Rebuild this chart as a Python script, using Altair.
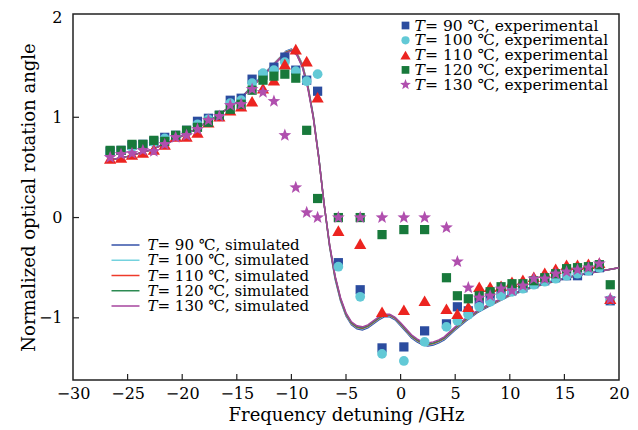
import altair as alt
import pandas as pd

FONT = "DejaVu Serif"

# ---------------- data ----------------
SERIES = ["90", "100", "110", "120", "130"]
EXP_TEXT = ["= 90 ℃, experimental", "= 100 ℃, experimental", "= 110 ℃, experimental",
            "= 120 ℃, experimental", "= 130 ℃, experimental"]
SIM_TEXT = ["= 90 ℃, simulated", "= 100 ℃, simulated", "= 110 ℃, simulated",
            "= 120 ℃, simulated", "= 130 ℃, simulated"]

X_EXP = [-26.6, -25.6, -24.6, -23.6, -22.6, -21.6, -20.6, -19.6, -18.6, -17.6,
         -16.6, -15.6, -14.6, -13.6, -12.6, -11.6, -10.6, -9.6, -8.6, -7.6,
         -5.7, -3.7, -1.7, 0.3, 2.2, 4.2, 5.2, 6.2, 7.2, 8.2,
         9.2, 10.2, 11.2, 12.2, 13.2, 14.2, 15.2, 16.2, 17.2, 18.2, 19.2]

EXP_90 = [0.66, 0.67, 0.72, 0.73, 0.76, 0.80, 0.82, 0.87, 0.96, 0.99,
          1.02, 1.17, 1.19, 1.38, 1.42, 1.50, 1.60, 1.47, 1.37, 1.26,
          -0.45, -0.72, -1.30, -1.29, -1.13, -1.06, -0.89, -0.93, -0.84, -0.80,
          -0.76, -0.73, -0.70, -0.66, -0.63, -0.60, -0.58, -0.58, -0.53, -0.50, -0.83]
EXP_100 = [0.64, 0.66, 0.70, 0.72, 0.75, 0.79, 0.81, 0.85, 0.93, 0.98,
           1.01, 1.14, 1.17, 1.34, 1.44, 1.47, 1.55, 1.46, 1.36, 1.43,
           -0.49, -0.79, -1.36, -1.43, -1.24, -1.09, -1.03, -0.97, -0.89, -0.84,
           -0.78, -0.74, -0.71, -0.67, -0.64, -0.61, -0.58, -0.56, -0.53, -0.50, -0.82]
EXP_110 = [0.59, 0.60, 0.63, 0.65, 0.68, 0.73, 0.81, 0.81, 0.85, 0.95,
           1.01, 1.07, 1.11, 1.16, 1.29, 1.37, 1.53, 1.68, 1.56, 1.20,
           -0.13, -0.26, -0.94, -0.92, -0.83, -0.91, -0.96, -0.89, -0.69, -0.69,
           -0.68, -0.64, -0.62, -0.59, -0.55, -0.51, -0.47, -0.47, -0.46, -0.45, -0.81]
EXP_120 = [0.67, 0.67, 0.73, 0.73, 0.77, 0.76, 0.82, 0.87, 0.90, 0.95,
           1.02, 1.08, 1.13, 1.27, 1.37, 1.41, 1.43, 1.39, 0.87, 0.19,
           0.00, 0.00, -0.17, -0.12, -0.12, -0.60, -0.78, -0.81, -0.78, -0.74,
           -0.69, -0.66, -0.66, -0.63, -0.60, -0.56, -0.51, -0.50, -0.49, -0.47, -0.67]
EXP_130 = [0.60, 0.63, 0.64, 0.67, 0.66, 0.73, 0.80, 0.82, 0.88, 0.97,
           1.01, 1.12, 1.13, 1.28, 1.25, 1.16, 0.82, 0.30, 0.05, 0.00,
           0.00, 0.00, 0.00, 0.00, 0.00, -0.10, -0.44, -0.70, -0.80, -0.78,
           -0.71, -0.73, -0.68, -0.61, -0.61, -0.56, -0.54, -0.52, -0.50, -0.46, -0.81]

X_SIM = [-26.6, -25, -23, -21, -19, -17, -15, -13, -12, -11,
         -10.5, -10, -9.5, -9, -8.5, -8, -7.5, -7, -6.5, -6,
         -5.5, -5, -4.5, -4, -3.5, -3, -2.5, -2, -1.5, -1,
         -0.5, 0, 0.5, 1, 1.5, 2, 2.5, 3, 3.5, 4,
         5, 6, 7, 8, 10, 12, 14, 16, 18, 20]

SIM_90 = [0.575, 0.61, 0.67, 0.76, 0.87, 1.00, 1.15, 1.38, 1.49, 1.60,
          1.66, 1.68, 1.64, 1.53, 1.32, 1.02, 0.61, 0.13, -0.29, -0.61,
          -0.83, -0.98, -1.07, -1.11, -1.12, -1.10, -1.06, -1.02, -0.99, -0.99,
          -1.02, -1.08, -1.14, -1.20, -1.24, -1.27, -1.28, -1.27, -1.25, -1.22,
          -1.12, -1.03, -0.95, -0.89, -0.78, -0.70, -0.64, -0.58, -0.54, -0.50]
SIM_100 = [0.575, 0.61, 0.67, 0.76, 0.87, 1.00, 1.15, 1.38, 1.49, 1.60,
           1.655, 1.675, 1.635, 1.525, 1.315, 1.015, 0.605, 0.13, -0.285, -0.60,
           -0.82, -0.97, -1.06, -1.10, -1.11, -1.09, -1.05, -1.01, -0.98, -0.98,
           -1.01, -1.07, -1.13, -1.19, -1.23, -1.26, -1.27, -1.26, -1.24, -1.21,
           -1.11, -1.02, -0.94, -0.88, -0.78, -0.70, -0.63, -0.58, -0.54, -0.50]
SIM_110 = [0.575, 0.61, 0.67, 0.76, 0.87, 1.00, 1.15, 1.37, 1.485, 1.595,
           1.65, 1.67, 1.63, 1.52, 1.31, 1.01, 0.60, 0.13, -0.28, -0.595,
           -0.815, -0.965, -1.055, -1.095, -1.105, -1.085, -1.045, -1.005, -0.975, -0.975,
           -1.005, -1.065, -1.125, -1.185, -1.225, -1.255, -1.265, -1.255, -1.235, -1.205,
           -1.105, -1.015, -0.94, -0.88, -0.775, -0.695, -0.635, -0.58, -0.54, -0.50]
SIM_120 = [0.575, 0.61, 0.67, 0.76, 0.87, 1.00, 1.15, 1.37, 1.48, 1.59,
           1.645, 1.665, 1.625, 1.505, 1.30, 1.005, 0.60, 0.13, -0.275, -0.59,
           -0.81, -0.96, -1.05, -1.09, -1.10, -1.08, -1.04, -1.00, -0.97, -0.97,
           -1.00, -1.06, -1.12, -1.18, -1.22, -1.25, -1.26, -1.25, -1.23, -1.20,
           -1.10, -1.01, -0.935, -0.875, -0.77, -0.69, -0.63, -0.58, -0.54, -0.50]
SIM_130 = [0.575, 0.61, 0.67, 0.76, 0.87, 1.00, 1.15, 1.37, 1.48, 1.59,
           1.64, 1.66, 1.62, 1.50, 1.29, 1.00, 0.60, 0.13, -0.27, -0.58,
           -0.80, -0.95, -1.04, -1.08, -1.09, -1.07, -1.03, -0.99, -0.965, -0.965,
           -0.995, -1.05, -1.11, -1.17, -1.21, -1.24, -1.25, -1.24, -1.22, -1.19,
           -1.09, -1.00, -0.93, -0.87, -0.77, -0.69, -0.63, -0.58, -0.54, -0.50]

EXP_Y = [EXP_90, EXP_100, EXP_110, EXP_120, EXP_130]
SIM_Y = [SIM_90, SIM_100, SIM_110, SIM_120, SIM_130]

X_TICKS = [-30, -25, -20, -15, -10, -5, 0, 5, 10, 15, 20]
X_INNER_TICKS = [-25, -20, -15, -10, -5, 0, 5, 10, 15]
Y_TICKS = [-1, 0, 1, 2]
Y_INNER_TICKS = [-1, 0, 1]

# ---------------- style ----------------
STAR = ("M0,-1L0.247,-0.34L0.951,-0.309L0.399,0.13L0.588,0.809L0,0.42"
        "L-0.588,0.809L-0.399,0.13L-0.951,-0.309L-0.247,-0.34Z")
MARK_COLORS = ["#2b4c9f", "#62c9d6", "#ec2420", "#18793b", "#b04fae"]
LINE_COLORS = ["#3452a8", "#74d2de", "#ee3a2a", "#2c8a52", "#a6449e"]
SHAPES = ["square", "circle", "triangle-up", "square", STAR]
SIZES = [85, 95, 150, 85, 180]

W, H = 546, 366
xscale = alt.Scale(domain=[-30, 20], nice=False, zero=False)
yscale = alt.Scale(domain=[-1.62, 2.03], nice=False, zero=False)

xaxis = alt.Axis(values=X_TICKS, ticks=False, domain=False, grid=False, labelFlush=False,
                 labelFont=FONT, labelFontSize=16, labelColor="black", labelPadding=5,
                 title="Frequency detuning /GHz", titleFont=FONT, titleFontSize=18,
                 titleFontWeight="normal", titleColor="black", titlePadding=5)
yaxis = alt.Axis(values=Y_TICKS, ticks=False, domain=False, grid=False,
                 labelFont=FONT, labelFontSize=16, labelColor="black", labelPadding=11,
                 title="Normalized optical rotation angle", titleFont=FONT, titleFontSize=18,
                 titleFontWeight="normal", titleColor="black", titlePadding=0)


def xenc():
    return alt.X("x:Q", scale=xscale, axis=xaxis)


def yenc():
    return alt.Y("y:Q", scale=yscale, axis=yaxis)


layers = []

# simulated lines
for i, s in enumerate(SERIES):
    df = pd.DataFrame({"x": X_SIM, "y": SIM_Y[i]})
    layers.append(
        alt.Chart(df).mark_line(color=LINE_COLORS[i], strokeWidth=1.5).encode(x=xenc(), y=yenc())
    )

# experimental points
for i, s in enumerate(SERIES):
    df = pd.DataFrame({"x": X_EXP, "y": EXP_Y[i]})
    layers.append(
        alt.Chart(df).mark_point(shape=SHAPES[i], filled=True, opacity=1,
                                 size=SIZES[i], color=MARK_COLORS[i]).encode(x=xenc(), y=yenc())
    )

# inward ticks
layers.append(
    alt.Chart(pd.DataFrame({"x": X_INNER_TICKS})).mark_rule(color="#222", strokeWidth=1.2).encode(
        x=xenc(), y=alt.value(H), y2=alt.value(H - 6))
)
layers.append(
    alt.Chart(pd.DataFrame({"y": Y_INNER_TICKS})).mark_rule(color="#222", strokeWidth=1.2).encode(
        y=yenc(), x=alt.value(0), x2=alt.value(6))
)

one = pd.DataFrame({"a": [0]})


def text_layer(s, x, y, size, italic=False):
    return alt.Chart(one).mark_text(text=s, align="left", baseline="middle", font=FONT,
                                    fontSize=size, fontStyle="italic" if italic else "normal",
                                    color="black").encode(x=alt.value(x), y=alt.value(y))


# legend: experimental (top right)
for i, s in enumerate(SERIES):
    yy = 11.5 + 14.8 * i
    layers.append(
        alt.Chart(one).mark_point(shape=SHAPES[i], filled=True, opacity=1,
                                  size=SIZES[i] * 0.7, color=MARK_COLORS[i]).encode(
            x=alt.value(332.5), y=alt.value(yy))
    )
    layers.append(text_layer("T", 341.5, yy, 15.5, italic=True))
    layers.append(text_layer(EXP_TEXT[i], 352, yy, 15.5))

# legend: simulated (bottom left)
for i, s in enumerate(SERIES):
    yy = 231 + 15.25 * i
    layers.append(
        alt.Chart(one).mark_rule(color=LINE_COLORS[i], strokeWidth=1.5).encode(
            x=alt.value(38.5), x2=alt.value(66.5), y=alt.value(yy))
    )
    layers.append(text_layer("T", 74.5, yy, 15, italic=True))
    layers.append(text_layer(SIM_TEXT[i], 84.5, yy, 15))

chart = alt.layer(*layers).properties(
    width=W, height=H,
    padding={"left": 73, "top": 14, "right": 19, "bottom": 50},
    autosize="none",
    background="white",
).configure_view(stroke="#222", strokeWidth=1.5)

chart.save("out.html", embed_options={"renderer": "svg", "actions": False})
